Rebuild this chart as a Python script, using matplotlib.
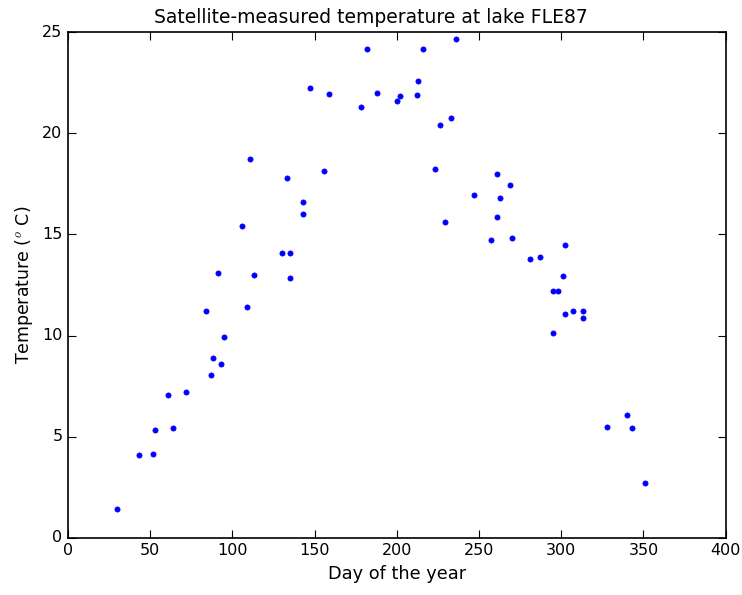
import matplotlib
matplotlib.use("Agg")
import matplotlib.pyplot as plt

# Day of year and satellite-derived surface temperature (deg C)
day = [30, 43, 52, 53, 61, 64, 72, 84, 87, 88, 91, 93, 95,
       106, 109, 111, 113, 130, 133, 135, 135, 143, 143, 147,
       156, 159, 178, 182, 188, 200, 202, 212, 213, 216, 223,
       226, 229, 233, 236, 247, 257, 261, 261, 263, 269, 270,
       281, 287, 295, 298, 295, 301, 302, 302, 307, 313, 313,
       328, 340, 343, 351]
temperature = [1.45, 4.1, 4.15, 5.35, 7.05, 5.45, 7.2, 11.2, 8.05, 8.9, 13.1, 8.6, 9.95,
               15.4, 11.4, 18.75, 13.0, 14.1, 17.8, 14.1, 12.85, 16.6, 16.0, 22.25,
               18.15, 21.95, 21.3, 24.15, 22.0, 21.6, 21.85, 21.9, 22.6, 24.15, 18.25,
               20.4, 15.6, 20.75, 24.65, 16.95, 14.7, 18.0, 15.85, 16.8, 17.45, 14.8,
               13.8, 13.9, 12.2, 12.2, 10.15, 12.95, 14.5, 11.05, 11.2, 11.2, 10.85,
               5.5, 6.05, 5.45, 2.7]

x_ticks = [0, 50, 100, 150, 200, 250, 300, 350, 400]
y_ticks = [0, 5, 10, 15, 20, 25]

plt.style.use("classic")
fig = plt.figure(figsize=(7.42, 5.95), dpi=100, facecolor="white")
ax = fig.add_axes([0.0916, 0.096, 0.8864, 0.850])

ax.plot(day, temperature, "b.", markersize=7.5)

ax.set_xlim(0, 400)
ax.set_ylim(0, 25)
ax.set_xticks(x_ticks)
ax.set_yticks(y_ticks)
ax.tick_params(labelsize=11.5, direction="in", length=6, width=0.8,
               top=True, right=True)
for side in ax.spines.values():
    side.set_linewidth(1.2)

ax.set_xlabel("Day of the year", fontsize=12.8)
ax.set_ylabel(r"Temperature ($^o$ C)", fontsize=12.5)
fig.suptitle("Satellite-measured temperature at lake FLE87", fontsize=13.5,
             x=0.5, y=0.987, va="top")

fig.savefig("out.png", dpi=100, facecolor="white")
